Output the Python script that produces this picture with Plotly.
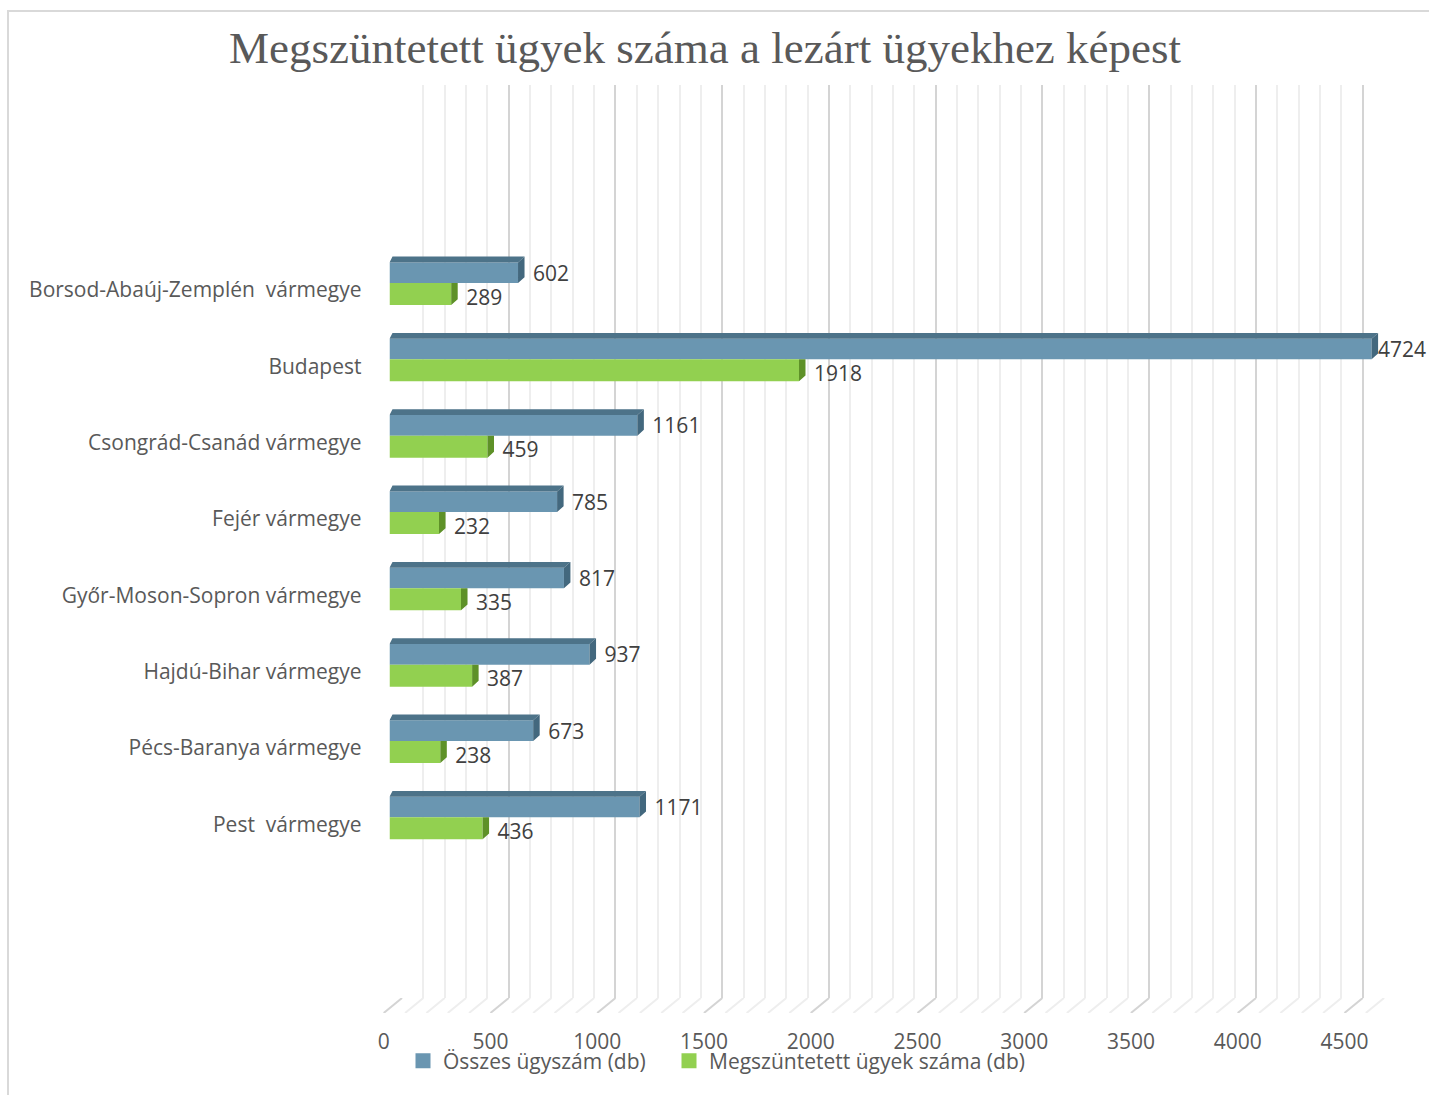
import numpy as np
import plotly.graph_objects as go

# ---------------- data ----------------
categories = [
    "Borsod-Abaúj-Zemplén  vármegye",
    "Budapest",
    "Csongrád-Csanád vármegye",
    "Fejér vármegye",
    "Győr-Moson-Sopron vármegye",
    "Hajdú-Bihar vármegye",
    "Pécs-Baranya vármegye",
    "Pest  vármegye",
]
osszes = [602, 4724, 1161, 785, 817, 937, 673, 1171]
megszuntetett = [289, 1918, 459, 232, 335, 387, 238, 436]
series_names = ["Összes ügyszám (db)", "Megszüntetett ügyek száma (db)"]
x_tick_values = [0, 500, 1000, 1500, 2000, 2500, 3000, 3500, 4000, 4500]
title_text = "Megszüntetett ügyek száma a lezárt ügyekhez képest"

# ---------------- geometry / style ----------------
W, H = 1429, 1095
S = 0.2135            # px per value unit
AXIS_MAX = 4600
MINOR_STEP = 100
MAJOR_STEP = 500

def fx(px):
    return px / W

def fy(px):
    return 1 - px / H

def xdom(zero_px, r0, r1):
    return [fx(zero_px + S * r0), fx(zero_px + S * r1)]

WALL_ZERO = 402.0
BAR_ZERO = 389.5
FRONT_ZERO = 383.7
TOP_PX, FLOOR_BACK_PX, FLOOR_FRONT_PX = 85.0, 998.0, 1013.0
CAT0_PX, CAT_STEP_PX = 283.0, 76.33

BLUE = "#6A96B1"
BLUE_TOP = "#4D7389"
BLUE_SIDE = "#43687E"
GREEN = "#92D050"
GREEN_SIDE = "#5E9128"
MAJOR_GRID = "#D4D4D4"
MINOR_GRID = "#EEEEEE"
TEXT = "#595959"
LABEL = "#404040"
FONT = "Open Sans"
FS = 21

yr_top = (TOP_PX - CAT0_PX) / CAT_STEP_PX
yr_bot = (FLOOR_BACK_PX - CAT0_PX) / CAT_STEP_PX
ydom_main = [fy(FLOOR_BACK_PX), fy(TOP_PX)]

idx = np.arange(len(categories), dtype=float)
tot = np.minimum(np.array(osszes, float), AXIS_MAX)
meg = np.minimum(np.array(megszuntetett, float), AXIS_MAX)

BW_BLUE, BW_GREEN = 0.27, 0.288
DX_R = 6.5 / S          # depth shift right (value units)
DX_L = 3.0 / S
DY = 5.8 / CAT_STEP_PX  # depth shift up (category units)

fig = go.Figure()

# ---------- floor lines (subplot x3/y3) ----------
FRONT_SHIFT = (WALL_ZERO - FRONT_ZERO) / S
maj_x, maj_y, min_x, min_y = [], [], [], []
for v in range(0, AXIS_MAX + 1, MINOR_STEP):
    xs = [v, v - FRONT_SHIFT, None]
    ys = [1, 0, None]
    if v % MAJOR_STEP == 0:
        maj_x += xs; maj_y += ys
    else:
        min_x += xs; min_y += ys
fig.add_trace(go.Scatter(x=min_x, y=min_y, mode="lines", xaxis="x3", yaxis="y3",
                         line=dict(color=MINOR_GRID, width=2), showlegend=False, hoverinfo="skip"))
fig.add_trace(go.Scatter(x=maj_x, y=maj_y, mode="lines", xaxis="x3", yaxis="y3",
                         line=dict(color=MAJOR_GRID, width=2), showlegend=False, hoverinfo="skip"))
fig.add_trace(go.Scatter(x=[None], y=[None], xaxis="x4", yaxis="y3", showlegend=False,
                         hoverinfo="skip"))
# wall subplot dummy
fig.add_trace(go.Scatter(x=[None], y=[None], xaxis="x", yaxis="y", showlegend=False,
                         hoverinfo="skip"))

# ---------- bars (subplot x2/y2) ----------
fig.add_trace(go.Bar(
    x=tot, y=idx, orientation="h", width=BW_BLUE, offset=-BW_BLUE,
    marker=dict(color=BLUE, line=dict(width=0)), name=series_names[0], showlegend=False,
    xaxis="x2", yaxis="y2", hovertext=[str(v) for v in osszes], hoverinfo="text"))
fig.add_trace(go.Bar(
    x=meg, y=idx, orientation="h", width=BW_GREEN, offset=0,
    marker=dict(color=GREEN, line=dict(width=0)), name=series_names[1], showlegend=False,
    xaxis="x2", yaxis="y2", hovertext=[str(v) for v in megszuntetett], hoverinfo="text"))

# 3D faces computed from the values
top_x, top_y, bside_x, bside_y, gside_x, gside_y = [], [], [], [], [], []
for i, v, g in zip(idx, tot, meg):
    yt = i - BW_BLUE
    yb = i
    top_x += [0, v, v + DX_R, DX_L, 0, None]
    top_y += [yt, yt, yt - DY, yt - DY, yt, None]
    bside_x += [v, v + DX_R, v + DX_R, v, v, None]
    bside_y += [yt, yt - DY, yb - DY, yb, yt, None]
    gt = i
    gb = i + BW_GREEN
    gside_x += [g, g + DX_R, g + DX_R, g, g, None]
    gside_y += [gt, gt, gb - DY, gb, gt, None]

for xs, ys, col in [(top_x, top_y, BLUE_TOP), (bside_x, bside_y, BLUE_SIDE),
                    (gside_x, gside_y, GREEN_SIDE)]:
    fig.add_trace(go.Scatter(x=xs, y=ys, mode="lines", fill="toself", fillcolor=col,
                             line=dict(width=0, color=col), xaxis="x2", yaxis="y2",
                             showlegend=False, hoverinfo="skip"))

# data labels
LABEL_OFF = 15.0 / S
LABEL_CAP = AXIS_MAX + 30
fig.add_trace(go.Scatter(
    x=np.minimum(tot + LABEL_OFF, LABEL_CAP), y=idx - BW_BLUE / 2 + 0.035,
    mode="text", text=[str(v) for v in osszes], textposition="middle right",
    textfont=dict(family=FONT, size=FS, color=LABEL), cliponaxis=False,
    xaxis="x2", yaxis="y2", showlegend=False, hoverinfo="skip"))
fig.add_trace(go.Scatter(
    x=np.minimum(meg + LABEL_OFF, LABEL_CAP), y=idx + BW_GREEN / 2 + 0.07,
    mode="text", text=[str(v) for v in megszuntetett], textposition="middle right",
    textfont=dict(family=FONT, size=FS, color=LABEL), cliponaxis=False,
    xaxis="x2", yaxis="y2", showlegend=False, hoverinfo="skip"))

# legend entries (square swatches), one legend box per series
for name, col, lg in zip(series_names, [BLUE, GREEN], ["legend", "legend2"]):
    fig.add_trace(go.Scatter(x=[None], y=[None], mode="markers", name=name, legend=lg,
                             marker=dict(symbol="square", size=15, color=col),
                             xaxis="x2", yaxis="y2", hoverinfo="skip"))

hidden = dict(showgrid=False, zeroline=False, showline=False, showticklabels=False, ticks="")
legend_style = dict(orientation="h", xanchor="left", y=fy(1061), yanchor="middle",
                    font=dict(family=FONT, size=FS, color=TEXT), bgcolor="rgba(0,0,0,0)")

fig.update_layout(
    width=W, height=H,
    margin=dict(l=0, r=0, t=0, b=0, autoexpand=False),
    paper_bgcolor="white", plot_bgcolor="rgba(0,0,0,0)",
    barmode="overlay",
    font=dict(family=FONT, color=TEXT, size=FS),
    title=dict(text=title_text, x=fx(705), xref="container", xanchor="center",
               y=fy(47), yref="container", yanchor="middle",
               font=dict(family="Liberation Serif", size=45, color=TEXT)),
    # wall
    xaxis=dict(domain=xdom(WALL_ZERO, -3, AXIS_MAX + 3), range=[-3, AXIS_MAX + 3],
               anchor="y", showgrid=True, gridcolor=MAJOR_GRID, gridwidth=2,
               tick0=0, dtick=MAJOR_STEP, zeroline=False, showline=False,
               showticklabels=False, ticks="",
               minor=dict(dtick=MINOR_STEP, tick0=0, showgrid=True,
                          gridcolor=MINOR_GRID, gridwidth=2)),
    yaxis=dict(domain=ydom_main, range=[0, 1], anchor="x", **hidden),
    # bars
    xaxis2=dict(domain=xdom(BAR_ZERO, 0, AXIS_MAX + 50), range=[0, AXIS_MAX + 50],
                anchor="y2", **hidden),
    yaxis2=dict(domain=ydom_main, range=[yr_bot, yr_top], anchor="x2",
                tickmode="array", tickvals=idx, ticktext=categories,
                showgrid=False, zeroline=False, showline=False, ticks="",
                ticklabelstandoff=27, ticklabelshift=-7,
                tickfont=dict(family=FONT, size=FS, color=TEXT)),
    # floor
    xaxis3=dict(domain=xdom(WALL_ZERO, -100, AXIS_MAX + 50), range=[-100, AXIS_MAX + 50],
                anchor="y3", **hidden),
    yaxis3=dict(domain=[fy(FLOOR_FRONT_PX), fy(FLOOR_BACK_PX)], range=[0, 1],
                anchor="x3", **hidden),
    # front tick labels
    xaxis4=dict(domain=xdom(FRONT_ZERO, -10, AXIS_MAX + 10), range=[-10, AXIS_MAX + 10],
                anchor="y3", tickmode="array", tickvals=x_tick_values,
                ticktext=[str(v) for v in x_tick_values],
                showgrid=False, zeroline=False, showline=False, ticks="",
                ticklabelstandoff=14,
                tickfont=dict(family=FONT, size=FS, color=TEXT)),
    legend=dict(x=fx(403), **legend_style),
    legend2=dict(x=fx(669), **legend_style),
    shapes=[dict(type="rect", xref="paper", yref="paper", x0=fx(8), x1=fx(1450),
                 y0=fy(1120), y1=fy(11), line=dict(color="#D9D9D9", width=2),
                 layer="below")],
    showlegend=True,
)

fig.write_html("out.html", config={"displayModeBar": False},
               post_script="document.body.style.margin='0';document.body.style.overflow='hidden';")
